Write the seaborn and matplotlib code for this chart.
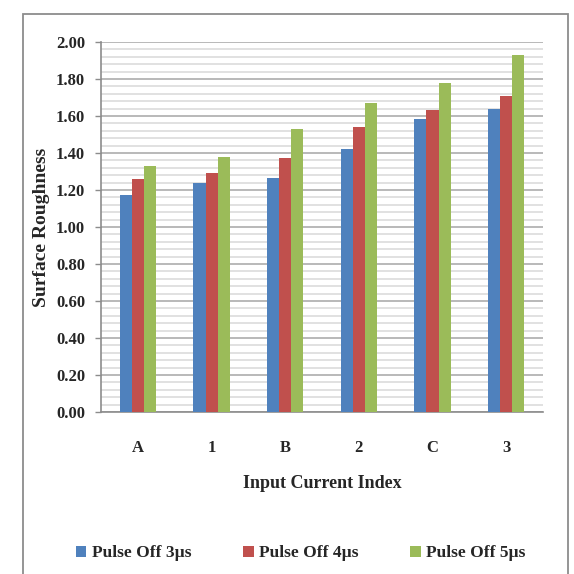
import matplotlib
matplotlib.use("Agg")
import matplotlib.pyplot as plt
from matplotlib.patches import Rectangle
from matplotlib.ticker import MultipleLocator, FormatStrFormatter
import seaborn as sns
import pandas as pd

categories = ["A", "1", "B", "2", "C", "3"]
series_names = ["Pulse Off 3\u00b5s", "Pulse Off 4\u00b5s", "Pulse Off 5\u00b5s"]
pulse_off_3 = [1.175, 1.24, 1.265, 1.42, 1.585, 1.64]
pulse_off_4 = [1.26, 1.29, 1.375, 1.54, 1.63, 1.71]
pulse_off_5 = [1.33, 1.38, 1.53, 1.67, 1.78, 1.93]
colors = ["#4F81BD", "#C0504D", "#9BBB59"]

rows = []
for name, vals in zip(series_names, [pulse_off_3, pulse_off_4, pulse_off_5]):
    for cat, v in zip(categories, vals):
        rows.append({"Index": cat, "Series": name, "Value": v})
df = pd.DataFrame(rows)

sns.set_theme(style="white")
plt.rcParams["font.family"] = ["Liberation Serif", "DejaVu Serif"]
plt.rcParams["font.weight"] = "bold"

fig = plt.figure(figsize=(5.74, 5.74), dpi=100)
ax = fig.add_axes([0.176, 0.2822, 0.770, 0.6446])

sns.barplot(data=df, x="Index", y="Value", hue="Series", order=categories,
            hue_order=series_names, palette=colors, width=0.49, saturation=1,
            edgecolor="none", linewidth=0, ax=ax, zorder=3)

ax.set_ylim(0, 2.0)
ax.set_xlim(-0.5, len(categories) - 0.5)
ax.yaxis.set_major_locator(MultipleLocator(0.2))
ax.yaxis.set_minor_locator(MultipleLocator(0.04))
ax.yaxis.set_major_formatter(FormatStrFormatter("%.2f"))
ax.grid(which="major", axis="y", color="#a6a6a6", linewidth=1.1, zorder=0)
ax.grid(which="minor", axis="y", color="#d9d9d9", linewidth=1.1, zorder=0)
ax.set_axisbelow(True)

for side in ["top", "right"]:
    ax.spines[side].set_visible(False)
for side in ["left", "bottom"]:
    ax.spines[side].set_color("#8c8c8c")
    ax.spines[side].set_linewidth(1.2)

ax.tick_params(axis="y", which="major", left=True, length=4.5, width=1.0,
               color="#8c8c8c", labelsize=12, pad=7)
ax.tick_params(axis="y", which="minor", left=True, length=0)
ax.tick_params(axis="x", bottom=False, labelsize=12, pad=14)
for lbl in ax.get_xticklabels() + ax.get_yticklabels():
    lbl.set_fontweight("bold")

ax.set_xlabel("Input Current Index", fontsize=13, fontweight="bold", labelpad=14)
ax.set_ylabel("Surface Roughness", fontsize=14, fontweight="bold", labelpad=4)

handles, labels = ax.get_legend_handles_labels()
ax.legend(handles, labels, ncol=3, loc="center", bbox_to_anchor=(0.524, 0.036),
          bbox_transform=fig.transFigure, frameon=False,
          handlelength=0.6, handleheight=0.6, handletextpad=0.3,
          columnspacing=3.0, prop={"weight": "bold", "size": 12.5})

# outer chart frame
frame = Rectangle((23 / 574, -0.02), (568 - 23) / 574, 1 - 14 / 574 + 0.02,
                  transform=fig.transFigure, fill=False, edgecolor="#8c8c8c",
                  linewidth=1.3, zorder=0)
fig.patches.append(frame)

fig.savefig("out.png", dpi=100)
